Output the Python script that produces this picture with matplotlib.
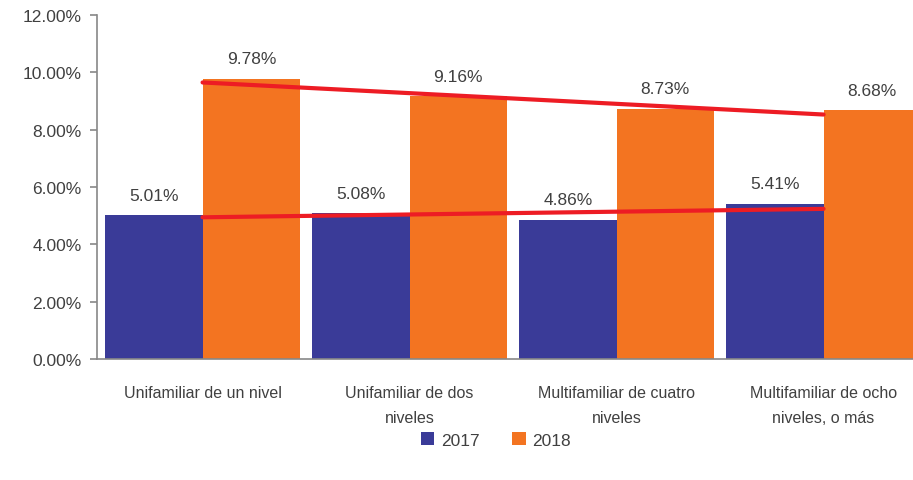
import numpy as np
import matplotlib
matplotlib.use("Agg")
import matplotlib.pyplot as plt

categories = ["Unifamiliar de un nivel", "Unifamiliar de dos\nniveles",
              "Multifamiliar de cuatro\nniveles", "Multifamiliar de ocho\nniveles, o más"]
vals_2017 = [5.01, 5.08, 4.86, 5.41]
vals_2018 = [9.78, 9.16, 8.73, 8.68]
yticks = [0, 2, 4, 6, 8, 10, 12]

plt.rcParams['font.family'] = ['Liberation Sans', 'DejaVu Sans']
txt = '#404040'

fig = plt.figure(figsize=(9.13, 4.81), dpi=100)
ax = fig.add_axes([97 / 913, 1 - 360 / 481, (4.01 * 207) / 913, 344 / 481])

x = np.arange(len(categories))
w = 0.471
b1 = ax.bar(x - w / 2, vals_2017, w, color='#3a3b98', label='2017')
b2 = ax.bar(x + w / 2, vals_2018, w, color='#f37421', label='2018')

for bars, vals in [(b1, vals_2017), (b2, vals_2018)]:
    for r, v in zip(bars, vals):
        ax.annotate(f"{v:.2f}%", (r.get_x() + r.get_width() / 2, v),
                    xytext=(0, 9), textcoords='offset points',
                    ha='center', va='bottom', fontsize=12.5, color=txt)

# linear trend lines
for vals in [vals_2017, vals_2018]:
    k, c = np.polyfit(x, vals, 1)
    ax.plot(x, k * x + c, color='#ed1c24', lw=3, solid_capstyle='round', zorder=5)

ax.set_ylim(0, 12)
ax.set_xlim(-0.51, 3.5)
ax.set_yticks(yticks)
ax.set_yticklabels([f"{t:.2f}%" for t in yticks], fontsize=12.5, color=txt)
ax.set_xticks(x)
ax.set_xticklabels(categories, fontsize=11.5, color=txt, linespacing=1.8)
ax.tick_params(axis='x', length=0, pad=19)
ax.tick_params(axis='y', length=5, color='#888888', width=1.2, pad=6)

for s in ['top', 'right']:
    ax.spines[s].set_visible(False)
ax.spines['left'].set_color('#888888')
ax.spines['bottom'].set_color('#888888')
ax.spines['left'].set_linewidth(1.2)
ax.spines['bottom'].set_linewidth(1.2)

fig.legend(handles=[b1, b2], loc='center', bbox_to_anchor=(496 / 913, 1 - 441 / 481),
           ncol=2, frameon=False, fontsize=12.5, labelcolor=txt,
           handlelength=0.75, handleheight=0.75, columnspacing=1.9, handletextpad=0.4)

fig.savefig('out.png', dpi=100)
